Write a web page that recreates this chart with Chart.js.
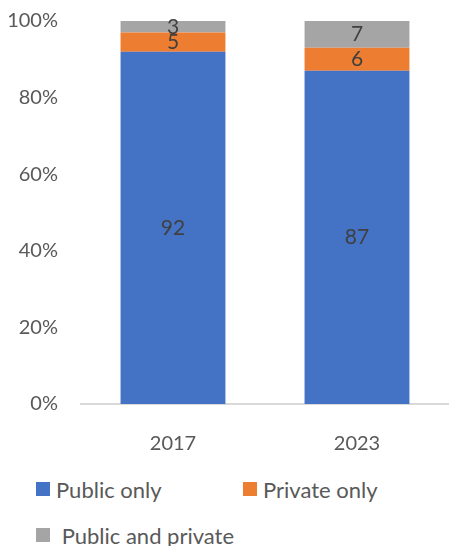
<!DOCTYPE html>
<html>
<head>
<meta charset="utf-8">
<script src="https://cdn.jsdelivr.net/npm/chart.js@4.4.1/dist/chart.umd.min.js"></script>
<style>
  html, body { margin: 0; padding: 0; background: #fff; }
  #wrap { position: relative; width: 449px; height: 546px; }
  #myChart { position: absolute; left: 0; top: 0; }
  #legend { position: absolute; left: 36px; top: 466px; width: 414px; display: flex; flex-wrap: wrap;
            font-family: Lato, sans-serif; font-size: 22px; color: #595959; }
  .item { width: 207px; height: 46px; display: flex; align-items: center; white-space: pre; }
  .box { width: 14px; height: 14px; margin-right: 6px; flex: none; }
</style>
</head>
<body>
<div id="wrap">
  <canvas id="myChart" width="449" height="460"></canvas>
  <div id="legend"></div>
</div>
<script>
const years = ['2017', '2023'];
const publicOnly = [92, 87];
const privateOnly = [5, 6];
const publicAndPrivate = [3, 7];
const yTicks = [0, 20, 40, 60, 80, 100];

const seriesNames = ['Public only', 'Private only', ' Public and private'];
const colors = ['#4472C4', '#ED7D31', '#A5A5A5'];

// write the value in the middle of each stacked segment
const segmentLabels = {
  id: 'segmentLabels',
  afterDatasetsDraw(chart) {
    const ctx = chart.ctx;
    ctx.save();
    ctx.fillStyle = '#404040';
    ctx.font = '21px Lato, sans-serif';
    ctx.textAlign = 'center';
    ctx.textBaseline = 'middle';
    chart.data.datasets.forEach((ds, i) => {
      chart.getDatasetMeta(i).data.forEach((bar, j) => {
        const mid = (bar.y + bar.base) / 2;
        ctx.fillText(String(ds.data[j]), bar.x, mid);
      });
    });
    ctx.restore();
  }
};

const ctx = document.getElementById('myChart').getContext('2d');
const chart = new Chart(ctx, {
  type: 'bar',
  data: {
    labels: years,
    datasets: [
      { label: seriesNames[0], data: publicOnly, backgroundColor: colors[0] },
      { label: seriesNames[1], data: privateOnly, backgroundColor: colors[1] },
      { label: seriesNames[2], data: publicAndPrivate, backgroundColor: colors[2] }
    ]
  },
  options: {
    responsive: false,
    animation: false,
    // plot runs a little past the right edge of the canvas
    layout: { padding: { top: 21, left: 0, right: -4, bottom: 0 } },
    datasets: { bar: { barPercentage: 1, categoryPercentage: 0.57, borderWidth: 0 } },
    plugins: { legend: { display: false }, tooltip: { enabled: false } },
    scales: {
      x: {
        stacked: true,
        grid: { display: false },
        border: { color: '#D9D9D9', width: 2 },
        ticks: { color: '#595959', font: { family: 'Lato', size: 20 }, padding: 20 },
        afterFit(scale) { scale.height = 56; }
      },
      y: {
        stacked: true,
        min: 0,
        max: 100,
        afterBuildTicks(scale) { scale.ticks = yTicks.map(v => ({ value: v })); },
        grid: { display: false, drawTicks: false },
        border: { display: false },
        ticks: {
          color: '#595959',
          font: { family: 'Lato', size: 20 },
          padding: 23,
          callback: v => v + '%'
        },
        afterFit(scale) {
          scale.width = 81;
          // the label padding is horizontal only here
          scale.paddingTop = 10;
          scale.paddingBottom = 10;
        }
      }
    }
  },
  plugins: [segmentLabels]
});

// legend laid out as two columns below the plot
const legend = document.getElementById('legend');
chart.data.datasets.forEach(ds => {
  const item = document.createElement('div');
  item.className = 'item';
  const box = document.createElement('span');
  box.className = 'box';
  box.style.background = ds.backgroundColor;
  item.appendChild(box);
  item.appendChild(document.createTextNode(ds.label));
  legend.appendChild(item);
});
</script>
</body>
</html>
